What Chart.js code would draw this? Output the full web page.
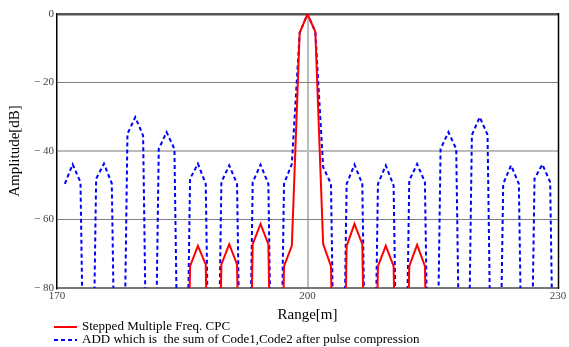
<!DOCTYPE html>
<html>
<head>
<meta charset="utf-8">
<script src="https://cdn.jsdelivr.net/npm/chart.js@4.4.1/dist/chart.umd.min.js"></script>
<style>
  html, body { margin: 0; padding: 0; background: #fff; }
  #wrap { width: 569px; height: 347px; }
</style>
</head>
<body>
<div id="wrap"><canvas id="canvas" width="569" height="347"></canvas></div>
<script>
// range samples [m] (step 0.9375 m, centre at 200 m)
const ranges = [
  170.9375, 171.875, 172.8125, 173.75, 174.6875, 175.625, 176.5625, 177.5,
  178.4375, 179.375, 180.3125, 181.25, 182.1875, 183.125, 184.0625, 185,
  185.9375, 186.875, 187.8125, 188.75, 189.6875, 190.625, 191.5625, 192.5,
  193.4375, 194.375, 195.3125, 196.25, 197.1875, 198.125, 199.0625, 200,
  200.9375, 201.875, 202.8125, 203.75, 204.6875, 205.625, 206.5625, 207.5,
  208.4375, 209.375, 210.3125, 211.25, 212.1875, 213.125, 214.0625, 215,
  215.9375, 216.875, 217.8125, 218.75, 219.6875, 220.625, 221.5625, 222.5,
  223.4375, 224.375, 225.3125, 226.25, 227.1875, 228.125, 229.0625, 230
];

// Stepped Multiple Freq. CPC [dB]  (nulls are deep, far below the plot)
const cpcValues = [
  null, null, null, null, null, null, null, null,
  null, null, null, null, null, null, null, -200,
  -73.6, -67.7, -73.1, -200, -73.1, -67.2, -73.1, -200,
  -67.2, -61.3, -67.2, -200, -73.6, -67.7, -5.5, 0,
  -5.2, -67.2, -73.6, -200, -67.7, -61.3, -67.2, -200,
  -73.6, -67.7, -73.6, -200, -73.6, -67.4, -73.6, -200,
  null, null, null, null, null, null, null, null,
  null, null, null, null, null, null, null, null
];

// ADD (sum of Code1, Code2 after pulse compression) [dB]
const addValues = [
  -49.6, -43.9, -49.1, -200, -48.1, -43.7, -49.5, -200,
  -35.0, -30.1, -35.5, -200, -39.4, -34.5, -39.4, -200,
  -48.1, -43.7, -49.6, -200, -49.1, -44.2, -49.6, -200,
  -49.1, -44.0, -49.6, -200, -49.6, -43.8, -5.5, 0,
  -5.2, -44.7, -49.6, -200, -49.6, -44.0, -49.6, -200,
  -49.6, -44.2, -50.1, -200, -48.6, -43.8, -49.1, -200,
  -39.4, -34.5, -39.4, -200, -35.3, -30.1, -35.3, -200,
  -49.6, -44.2, -49.6, -200, -48.1, -43.9, -49.1, -200
];

const xTicks = [170, 200, 230];
const yTicks = [0, -20, -40, -60, -80];
const seriesNames = [
  'Stepped Multiple Freq. CPC',
  'ADD which is  the sum of Code1,Code2 after pulse compression'
];

const serif = '"Liberation Serif", "Times New Roman", serif';
Chart.defaults.font.family = serif;

function yGridColor(v){
  if(v === 0) return '#555555';
  if(v === -40) return '#bbbbbb';
  return '#808080';
}
function yGridWidth(v){
  if(v === 0) return 2.5;
  if(v === -40 || v === -80) return 2;
  return 1;
}

// frame on the right + legend under the axis
const frameAndLegend = {
  id: 'frameAndLegend',
  afterDraw(chart){
    const ctx = chart.ctx;
    const a = chart.chartArea;
    ctx.save();
    ctx.strokeStyle = '#000';
    ctx.lineWidth = 1.5;
    ctx.beginPath();
    ctx.moveTo(a.right + 0.5, a.top - 1);
    ctx.lineTo(a.right + 0.5, a.bottom + 1);
    ctx.stroke();

    const items = chart.data.datasets;
    const rowY = [chart.height - 20, chart.height - 7];
    ctx.font = '13px ' + serif;
    ctx.textBaseline = 'middle';
    ctx.fillStyle = '#000';
    items.forEach(function(ds, i){
      const y = rowY[i];
      ctx.strokeStyle = ds.borderColor;
      ctx.lineWidth = 2;
      ctx.setLineDash(ds.borderDash || []);
      ctx.beginPath();
      ctx.moveTo(a.left - 3, y);
      ctx.lineTo(a.left + 20, y);
      ctx.stroke();
      ctx.setLineDash([]);
      ctx.fillText(ds.label, a.left + 25, y);
    });
    ctx.restore();
  }
};

new Chart(document.getElementById('canvas'), {
  type: 'line',
  plugins: [frameAndLegend],
  data: {
    datasets: [
      {
        label: seriesNames[0],
        data: ranges.map((x, i) => ({x: x, y: cpcValues[i]})),
        borderColor: '#ff0000',
        borderWidth: 2,
        pointRadius: 0,
        tension: 0,
        spanGaps: false
      },
      {
        label: seriesNames[1],
        data: ranges.map((x, i) => ({x: x, y: addValues[i]})),
        borderColor: '#0000ff',
        borderWidth: 2,
        borderDash: [4, 3],
        pointRadius: 0,
        tension: 0
      }
    ]
  },
  options: {
    responsive: false,
    animation: false,
    devicePixelRatio: 1,
    layout: { padding: { left: 0, right: 11, top: 14, bottom: 22 } },
    plugins: {
      legend: { display: false },
      tooltip: { enabled: false }
    },
    scales: {
      x: {
        type: 'linear',
        min: 170,
        max: 230,
        afterBuildTicks(scale){ scale.ticks = xTicks.map(v => ({value: v})); },
        afterFit(scale){ scale.height = 37; },
        ticks: {
          color: '#444',
          font: { size: 11 },
          padding: 2,
          maxRotation: 0,
          autoSkip: false
        },
        grid: {
          drawTicks: false,
          color: (c) => (c.tick && c.tick.value === 200) ? '#bbbbbb' : 'rgba(0,0,0,0)',
          lineWidth: 2
        },
        border: { color: '#777777', width: 2 },
        title: {
          display: true,
          text: 'Range[m]',
          color: '#000',
          font: { size: 15 },
          padding: { top: 0, bottom: 1 }
        }
      },
      y: {
        min: -80,
        max: 0,
        afterBuildTicks(scale){ scale.ticks = yTicks.map(v => ({value: v})); },
        afterFit(scale){ scale.width = 57; },
        ticks: {
          color: '#444',
          font: { size: 11 },
          padding: 3,
          callback: (v) => v === 0 ? '0' : '\u2212 ' + Math.abs(v)
        },
        grid: {
          drawTicks: false,
          color: (c) => c.tick ? yGridColor(c.tick.value) : '#808080',
          lineWidth: (c) => c.tick ? yGridWidth(c.tick.value) : 1
        },
        border: { color: '#000000', width: 1.5 },
        title: {
          display: true,
          text: 'Amplitude[dB]',
          color: '#000',
          font: { size: 15 },
          padding: { top: 6, bottom: 0 }
        }
      }
    }
  }
});
</script>
</body>
</html>
